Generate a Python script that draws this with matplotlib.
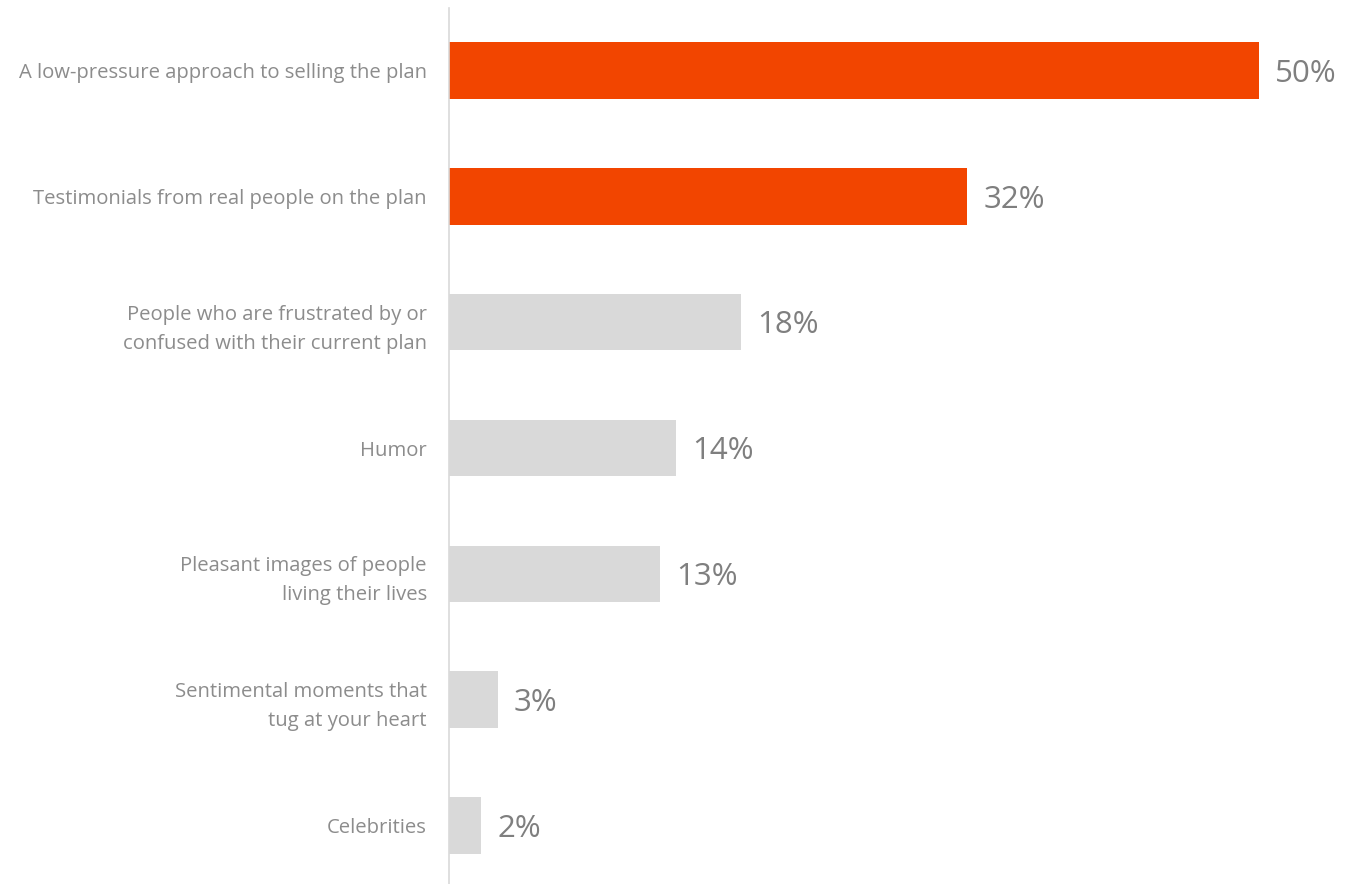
import matplotlib.pyplot as plt

# ------------ data ------------
labels = [
    "A low-pressure approach to selling the plan",
    "Testimonials from real people on the plan",
    "People who are frustrated by or\nconfused with their current plan",
    "Humor",
    "Pleasant images of people\nliving their lives",
    "Sentimental moments that\ntug at your heart",
    "Celebrities",
]
values = [50, 32, 18, 14, 13, 3, 2]
highlight = [True, True, False, False, False, False, False]

ORANGE = "#F24500"
GREY_BAR = "#D9D9D9"
LABEL_GREY = "#8C8C8C"
VALUE_GREY = "#7F7F7F"

plt.rcParams['font.family'] = ['Open Sans', 'DejaVu Sans']

# ------------ plotting ------------
fig = plt.figure(figsize=(13.61, 8.84), dpi=100)
ax = fig.add_axes([449 / 1361, 0.0, 1 - 449 / 1361, 876 / 884])

ypos = list(range(len(values)))
colors = [ORANGE if h else GREY_BAR for h in highlight]
ax.barh(ypos, values, height=0.45, color=colors)

# value labels just past the bar ends
for y, v in zip(ypos, values):
    ax.text(v + 1.0, y + 0.025, f"{v}%", va='center', ha='left',
            fontsize=22.5, color=VALUE_GREY)

ax.set_yticks(ypos)
ax.set_yticklabels(labels, fontsize=14.6, color=LABEL_GREY, linespacing=1.6)
ax.tick_params(axis='y', length=0, pad=16)
ax.set_xticks([])

ax.set_xlim(0, (1361 - 449) / 16.2)
ax.set_ylim(6.465, -0.497)

for side in ['top', 'right', 'bottom']:
    ax.spines[side].set_visible(False)
ax.spines['left'].set_color(GREY_BAR)
ax.spines['left'].set_linewidth(1.2)

fig.savefig("out.png", dpi=100)
